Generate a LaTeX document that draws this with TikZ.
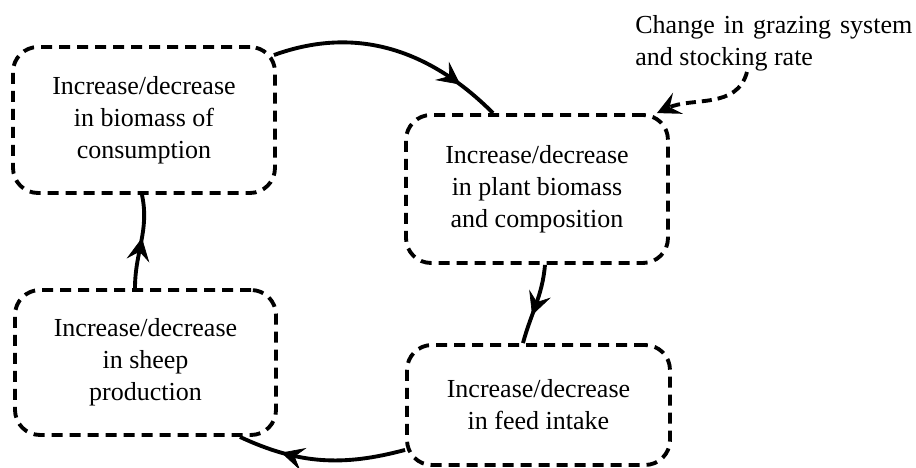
\documentclass[tikz,border=0pt]{standalone}
\usepackage{fontspec}
\setmainfont{Liberation Serif}
\usetikzlibrary{arrows.meta,decorations.markings}

\begin{document}
\begin{tikzpicture}[font=\fontsize{14.8}{18.2}\selectfont,
    tip/.style={-{Stealth[length=0.46cm,width=0.46cm,inset=0.18cm]}},
    box/.style={draw, line width=2.2pt, dash pattern=on 0.22cm off 0.14cm,
      rounded corners=0.5cm, align=center, minimum width=5.24cm, inner sep=0pt},
    flow/.style={line width=2.2pt, postaction={decorate},
      decoration={markings, mark=at position #1 with
        {\arrow[line width=0.4pt]{Stealth[length=0.46cm,width=0.46cm,inset=0.18cm]}}}}]
  \useasboundingbox (0,0) rectangle (18.32,9.36);
  \node[box, minimum height=2.92cm] (cons) at (2.88,6.96) {Increase/decrease\\in biomass of\\consumption};
  \node[box, minimum height=2.96cm] (plant) at (10.74,5.58) {Increase/decrease\\in plant biomass\\and composition};
  \node[box, minimum height=2.40cm, minimum width=5.26cm] (feed) at (10.77,1.26) {Increase/decrease\\in feed intake};
  \node[box, minimum height=2.90cm, minimum width=5.22cm] (sheep) at (2.91,2.11) {Increase/decrease\\in sheep\\production};
  \node[align=justify, text width=5.54cm, anchor=north west, inner sep=0pt] (chg) at (12.7,9.06)
    {Change in grazing system and stocking rate};
  \coordinate (src) at (14.94,7.92);
  \draw[flow=0.82] ([xshift=-0.06cm,yshift=-0.2cm]cons.north east) to [out=20,in=135] ([xshift=-0.88cm]plant.north);
  \draw[flow=0.64] ([xshift=0.16cm]plant.south) to [out=-95,in=75] ([xshift=-0.31cm]feed.north);
  \draw[flow=0.74] ([yshift=0.34cm]feed.south west) to [out=195,in=-25] ([xshift=1.89cm]sheep.south);
  \draw[flow=0.54] ([xshift=-0.21cm]sheep.north) to [out=90,in=-78] ([xshift=-0.04cm]cons.south);
  \draw[tip, line width=2.2pt, dash pattern=on 0.2cm off 0.12cm] (src) to [out=-105,in=25] ([xshift=-0.26cm]plant.north east);
\end{tikzpicture}
\end{document}
